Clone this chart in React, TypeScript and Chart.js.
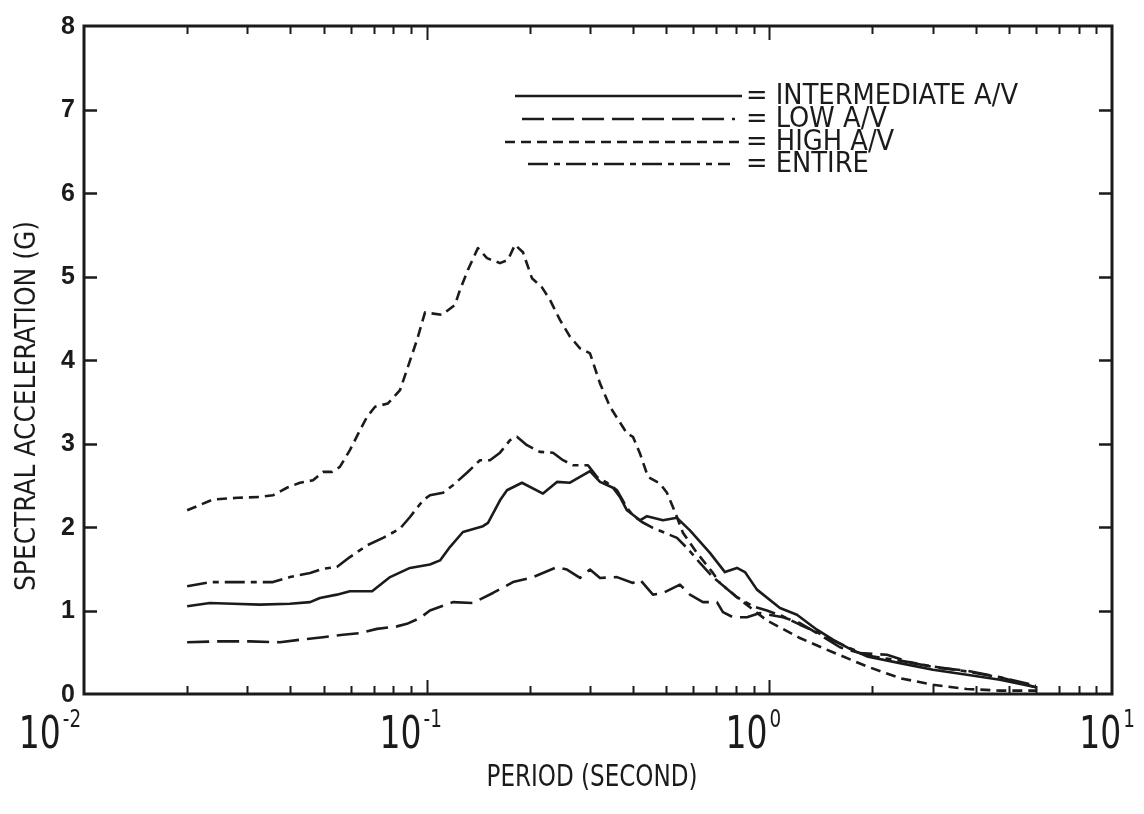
import React, { useEffect, useRef } from 'react';
import { Chart, registerables } from 'chart.js';

Chart.register(...registerables);

// ---------------- data ----------------
const INTERMEDIATE_T = [0.02, 0.0233, 0.0272, 0.0326, 0.0399, 0.0457, 0.0488, 0.0547, 0.0597, 0.0693, 0.0782, 0.0894, 0.1022, 0.1094, 0.1169, 0.1276, 0.146, 0.151, 0.1637, 0.1715, 0.1897, 0.2185, 0.24, 0.2619, 0.2997, 0.3205, 0.3497, 0.3664, 0.3842, 0.4193, 0.4395, 0.4893, 0.5376, 0.5865, 0.6709, 0.742, 0.8044, 0.8489, 0.9202, 1.074, 1.204, 1.377, 1.533, 1.718, 1.927, 2.405, 3.002, 3.773, 4.71, 6.0];
const INTERMEDIATE_SA = [1.05, 1.09, 1.08, 1.07, 1.08, 1.1, 1.15, 1.19, 1.23, 1.23, 1.4, 1.51, 1.55, 1.6, 1.76, 1.94, 2.01, 2.05, 2.32, 2.44, 2.53, 2.4, 2.54, 2.53, 2.67, 2.54, 2.47, 2.36, 2.2, 2.08, 2.13, 2.08, 2.11, 1.96, 1.69, 1.46, 1.51, 1.46, 1.25, 1.03, 0.95, 0.77, 0.65, 0.54, 0.45, 0.37, 0.29, 0.23, 0.17, 0.08];

const LOW_T = [0.02, 0.0244, 0.0305, 0.0373, 0.0427, 0.0498, 0.057, 0.0639, 0.0716, 0.0819, 0.0876, 0.0956, 0.1022, 0.1193, 0.1365, 0.1561, 0.1786, 0.2043, 0.24, 0.2567, 0.2802, 0.2997, 0.3205, 0.3592, 0.3999, 0.4193, 0.4574, 0.4893, 0.5484, 0.5865, 0.6401, 0.7033, 0.7321, 0.783, 0.8603, 0.9389, 1.096, 1.228, 1.377, 1.607, 1.838, 2.204, 2.624, 3.146, 3.773, 4.71, 6.0];
const LOW_SA = [0.62, 0.63, 0.63, 0.62, 0.65, 0.68, 0.71, 0.73, 0.78, 0.81, 0.84, 0.91, 1.0, 1.1, 1.09, 1.21, 1.34, 1.4, 1.52, 1.49, 1.39, 1.49, 1.39, 1.4, 1.33, 1.37, 1.19, 1.21, 1.31, 1.19, 1.1, 1.1, 0.98, 0.92, 0.92, 0.97, 0.92, 0.85, 0.73, 0.56, 0.49, 0.47, 0.37, 0.31, 0.28, 0.2, 0.08];

const HIGH_T = [0.02, 0.0238, 0.0281, 0.0326, 0.0356, 0.0391, 0.0427, 0.0466, 0.0498, 0.0529, 0.0558, 0.0597, 0.0639, 0.067, 0.0707, 0.0771, 0.0836, 0.0882, 0.0937, 0.0989, 0.1108, 0.1209, 0.1251, 0.132, 0.1411, 0.15, 0.1637, 0.1727, 0.181, 0.191, 0.2029, 0.217, 0.229, 0.2449, 0.2619, 0.2802, 0.2997, 0.3205, 0.3427, 0.3842, 0.3999, 0.4193, 0.4425, 0.4796, 0.5026, 0.5304, 0.5596, 0.6149, 0.6845, 0.7176, 0.8044, 0.984, 1.228, 1.533, 1.927, 2.405, 3.002, 3.773, 4.71, 6.0];
const HIGH_SA = [2.2, 2.33, 2.35, 2.36, 2.38, 2.47, 2.53, 2.56, 2.66, 2.66, 2.72, 2.92, 3.16, 3.32, 3.44, 3.48, 3.64, 3.92, 4.24, 4.57, 4.54, 4.66, 4.84, 5.08, 5.34, 5.22, 5.16, 5.2, 5.38, 5.29, 4.98, 4.87, 4.72, 4.48, 4.28, 4.14, 4.08, 3.72, 3.44, 3.12, 3.08, 2.88, 2.6, 2.52, 2.41, 2.18, 1.93, 1.69, 1.45, 1.33, 1.16, 0.88, 0.67, 0.5, 0.33, 0.19, 0.11, 0.06, 0.04, 0.04];

const ENTIRE_T = [0.02, 0.0233, 0.0272, 0.0326, 0.0356, 0.0399, 0.0457, 0.0498, 0.0547, 0.0597, 0.067, 0.0746, 0.0836, 0.0894, 0.0976, 0.1022, 0.1116, 0.1193, 0.1311, 0.1431, 0.153, 0.1637, 0.1751, 0.1834, 0.1962, 0.2141, 0.2337, 0.25, 0.2673, 0.2956, 0.314, 0.3358, 0.3592, 0.3842, 0.3999, 0.4249, 0.4574, 0.4893, 0.5376, 0.5749, 0.6273, 0.6845, 0.7273, 0.8044, 0.8959, 0.984, 1.096, 1.228, 1.377, 1.533, 1.718, 1.927, 2.405, 3.002, 3.773, 4.71, 6.0];
const ENTIRE_SA = [1.29, 1.34, 1.34, 1.34, 1.34, 1.4, 1.45, 1.5, 1.52, 1.64, 1.78, 1.87, 1.98, 2.12, 2.32, 2.38, 2.41, 2.5, 2.65, 2.8, 2.8, 2.89, 3.04, 3.08, 2.98, 2.9, 2.89, 2.8, 2.74, 2.74, 2.6, 2.53, 2.44, 2.23, 2.14, 2.06, 1.99, 1.94, 1.87, 1.75, 1.57, 1.4, 1.31, 1.16, 1.05, 1.0, 0.93, 0.83, 0.74, 0.64, 0.55, 0.46, 0.4, 0.33, 0.27, 0.2, 0.1];

const SERIES_LABELS = ['= INTERMEDIATE A/V', '= LOW A/V', '= HIGH A/V', '= ENTIRE'];
const X_DECADES = [0.01, 0.1, 1, 10];
const X_EXPONENTS = ['-2', '-1', '0', '1'];
const Y_TICK_LABELS = ['0', '1', '2', '3', '4', '5', '6', '7', '8'];
const Y_MIN = 0;
const Y_MAX = 8;
const X_TITLE = 'PERIOD (SECOND)';
const Y_TITLE = 'SPECTRAL ACCELERATION (G)';

// ---------------- style ----------------
const INK = '#1b1b1b';
const PLOT_FONT = '"DejaVu Sans Condensed", "Liberation Sans Narrow", "DejaVu Sans", sans-serif';
const DASHES = [[], [22, 8], [10, 6], [20, 6, 6, 6]];
// legend rows (relative to chart area top/left)
const LEGEND_ROWS = [70, 93, 116, 138];
const LEGEND_LINES = [[431, 658], [438, 651], [421, 658], [444, 646]];
const LEGEND_TEXT_X = 662;
// horizontal shift of each decade label's centre from its tick
const X_LABEL_SHIFT = [-34, -16, -16, -5];

function toPoints(t: number[], v: number[]) {
  return t.map((x, i) => ({ x, y: v[i] }));
}

function fitText(ctx: CanvasRenderingContext2D, text: string, x: number, y: number, sx: number) {
  ctx.save();
  ctx.translate(x, y);
  ctx.scale(sx, 1);
  ctx.fillText(text, 0, 0);
  ctx.restore();
}

const decorPlugin = {
  id: 'decor',
  afterDraw(chart: any) {
    const { ctx, chartArea: a, scales } = chart;
    const xs = scales.x;
    const ys = scales.y;
    ctx.save();
    ctx.strokeStyle = INK;
    ctx.fillStyle = INK;
    ctx.setLineDash([]);
    // frame
    ctx.lineWidth = 3;
    ctx.strokeRect(a.left, a.top, a.right - a.left, a.bottom - a.top);
    // x ticks (inside, bottom and top)
    ctx.lineWidth = 2;
    for (let d = 0; d < X_DECADES.length - 1; d++) {
      for (let k = 1; k <= 9; k++) {
        if (k === 1 && d === 0) continue;
        const v = X_DECADES[d] * k;
        const px = Math.round(xs.getPixelForValue(v)) + 0.5;
        const len = k === 1 ? 14 : 8;
        ctx.beginPath();
        ctx.moveTo(px, a.bottom);
        ctx.lineTo(px, a.bottom - len);
        ctx.moveTo(px, a.top);
        ctx.lineTo(px, a.top + len);
        ctx.stroke();
      }
    }
    // y ticks (inside, left and right)
    ctx.lineWidth = 2.5;
    for (let v = Y_MIN + 1; v < Y_MAX; v++) {
      const py = Math.round(ys.getPixelForValue(v)) + 0.5;
      ctx.beginPath();
      ctx.moveTo(a.left, py);
      ctx.lineTo(a.left + 13, py);
      ctx.moveTo(a.right, py);
      ctx.lineTo(a.right - 13, py);
      ctx.stroke();
    }
    // y tick labels
    ctx.font = 'bold 25px "Liberation Sans", Arial, sans-serif';
    ctx.textAlign = 'right';
    ctx.textBaseline = 'middle';
    for (let v = Y_MIN; v <= Y_MAX; v++) {
      ctx.fillText(Y_TICK_LABELS[v], a.left - 9, ys.getPixelForValue(v) + 1);
    }
    // x tick labels 10^n
    ctx.textBaseline = 'alphabetic';
    ctx.textAlign = 'left';
    for (let i = 0; i < X_DECADES.length; i++) {
      const px = xs.getPixelForValue(X_DECADES[i]);
      ctx.font = '44px ' + PLOT_FONT;
      const w10 = ctx.measureText('10').width;
      const baseW = 42;
      ctx.font = '24px ' + PLOT_FONT;
      const expW = ctx.measureText(X_EXPONENTS[i]).width * 0.85;
      const total = baseW + 2 + expW;
      const left = px + X_LABEL_SHIFT[i] - total / 2;
      ctx.font = '44px ' + PLOT_FONT;
      fitText(ctx, '10', left, a.bottom + 54, baseW / w10);
      ctx.font = '24px ' + PLOT_FONT;
      fitText(ctx, X_EXPONENTS[i], left + baseW + 2, a.bottom + 33, 0.85);
    }
    // axis titles
    ctx.textAlign = 'center';
    ctx.textBaseline = 'middle';
    ctx.font = '31px ' + PLOT_FONT;
    const xtW = ctx.measureText(X_TITLE).width;
    fitText(ctx, X_TITLE, (a.left + a.right) / 2 - 6, a.bottom + 84, 211 / xtW);
    ctx.font = '29px ' + PLOT_FONT;
    const ytW = ctx.measureText(Y_TITLE).width;
    ctx.save();
    ctx.translate(19, a.top + 380);
    ctx.rotate(-Math.PI / 2);
    fitText(ctx, Y_TITLE, 0, 0, 370 / ytW);
    ctx.restore();
    // legend
    ctx.font = '28px ' + PLOT_FONT;
    const legW = ctx.measureText(SERIES_LABELS[0]).width;
    const sxText = 272 / legW;
    const ds = chart.data.datasets;
    for (let i = 0; i < ds.length; i++) {
      const y = a.top + LEGEND_ROWS[i];
      ctx.lineWidth = ds[i].borderWidth;
      ctx.setLineDash(ds[i].borderDash || []);
      ctx.beginPath();
      ctx.moveTo(a.left + LEGEND_LINES[i][0], y);
      ctx.lineTo(a.left + LEGEND_LINES[i][1], y);
      ctx.stroke();
      ctx.setLineDash([]);
      ctx.textAlign = 'left';
      fitText(ctx, ds[i].label, a.left + LEGEND_TEXT_X, y + 1, sxText);
    }
    ctx.restore();
  },
};

export default function App() {
  const ref = useRef<HTMLCanvasElement | null>(null);
  useEffect(() => {
    if (!ref.current) return;
    const series = [
      { label: SERIES_LABELS[0], t: INTERMEDIATE_T, v: INTERMEDIATE_SA },
      { label: SERIES_LABELS[1], t: LOW_T, v: LOW_SA },
      { label: SERIES_LABELS[2], t: HIGH_T, v: HIGH_SA },
      { label: SERIES_LABELS[3], t: ENTIRE_T, v: ENTIRE_SA },
    ];
    const chart = new Chart(ref.current, {
      type: 'line',
      data: {
        datasets: series.map((s, i) => ({
          label: s.label,
          data: toPoints(s.t, s.v),
          borderColor: INK,
          borderWidth: 2.6,
          borderDash: DASHES[i],
          pointRadius: 0,
          tension: 0,
          fill: false,
          borderCapStyle: 'butt',
          borderJoinStyle: 'round',
        })),
      },
      options: {
        animation: false,
        responsive: false,
        layout: { padding: { left: 0, right: 24, top: 18, bottom: 0 } },
        plugins: { legend: { display: false }, tooltip: { enabled: false } },
        scales: {
          x: {
            type: 'logarithmic',
            min: X_DECADES[0],
            max: X_DECADES[X_DECADES.length - 1],
            grid: { display: false, drawTicks: false },
            border: { display: false },
            ticks: { display: false },
            afterFit: (s: any) => { s.height = 112; },
          },
          y: {
            type: 'linear',
            min: Y_MIN,
            max: Y_MAX,
            grid: { display: false, drawTicks: false },
            border: { display: false },
            ticks: { display: false, stepSize: 1 },
            afterFit: (s: any) => { s.width = 76; },
          },
        },
      },
      plugins: [decorPlugin],
    });
    return () => chart.destroy();
  }, []);
  return <canvas ref={ref} width={1128} height={798} style={{ display: 'block' }} />;
}
